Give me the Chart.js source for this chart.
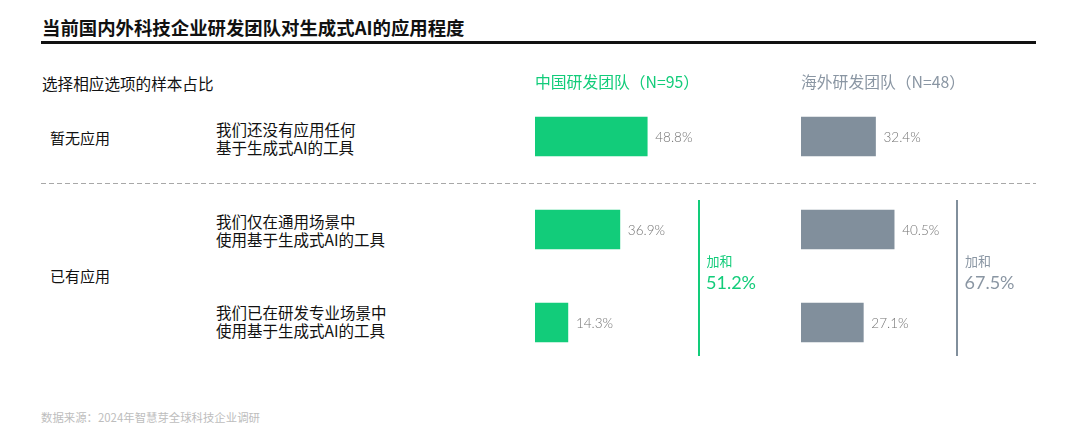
<!DOCTYPE html>
<html>
<head>
<meta charset="utf-8">
<script src="https://cdn.jsdelivr.net/npm/chart.js@4.4.1/dist/chart.umd.min.js"></script>
<style>
  html, body { margin:0; padding:0; background:#fff; }
  body { width:1080px; height:443px; position:relative; overflow:hidden;
         font-family:"Noto Sans CJK SC","Noto Sans",sans-serif; color:#111; }
  .abs { position:absolute; white-space:nowrap; }
  #title { left:42px; top:17px; font-size:18.4px; line-height:20px; font-weight:700; color:#111; }
  #rule { left:41px; top:41px; width:995px; height:3px; background:#111; }
  #sub { left:42px; top:73px; font-size:15.6px; line-height:20px; }
  .hdr { top:71.5px; font-size:15.8px; line-height:20px; }
  .grp { left:50px; font-size:15px; line-height:20px; }
  .cat { left:216px; font-size:15.5px; line-height:17.7px; }
  #dash { left:41px; top:183px; width:995px; height:1px;
          background:repeating-linear-gradient(90deg,#a8a8a8 0 5px,transparent 5px 8px); }
  .vline { top:200px; width:2px; height:156px; }
  .sumT { font-size:13px; line-height:16px; top:253px; }
  .sumV { font-size:18px; line-height:22px; top:270.5px; font-family:Lato,"Noto Sans",sans-serif; }
  #src { left:41px; top:409px; font-size:11.4px; line-height:16px; color:#bdbdbd; }
  .cwrap { position:absolute; top:90px; width:230px; height:279px; }
</style>
</head>
<body>
<div id="title" class="abs">当前国内外科技企业研发团队对生成式AI的应用程度</div>
<div id="rule" class="abs"></div>
<div id="sub" class="abs">选择相应选项的样本占比</div>
<div id="dash" class="abs"></div>
<div id="src" class="abs">数据来源：2024年智慧芽全球科技企业调研</div>

<div class="cwrap" style="left:535px;"><canvas id="c1"></canvas></div>
<div class="cwrap" style="left:801px;"><canvas id="c2"></canvas></div>

<script>
// ---- data ----
const categories = ['我们还没有应用任何基于生成式AI的工具', '我们仅在通用场景中使用基于生成式AI的工具', '我们已在研发专业场景中使用基于生成式AI的工具'];
const categoryLines = [
  ['我们还没有应用任何', '基于生成式AI的工具'],
  ['我们仅在通用场景中', '使用基于生成式AI的工具'],
  ['我们已在研发专业场景中', '使用基于生成式AI的工具']
];
const groupLabels = ['暂无应用', '已有应用'];
const seriesNames = ['中国研发团队（N=95）', '海外研发团队（N=48）'];
const chinaValues = [48.8, 36.9, 14.3];
const overseasValues = [32.4, 40.5, 27.1];
const sumLabel = '加和';
const sumValues = ['51.2%', '67.5%'];

// ---- styles ----
const GREEN = '#12cc7a';
const GRAY = '#818f9c';
const GRAY_TEXT = '#8a96a3';

function addDiv(cls, text, css) {
  const d = document.createElement('div');
  d.className = 'abs ' + cls;
  d.innerHTML = text;
  Object.assign(d.style, css);
  document.body.appendChild(d);
  return d;
}

// headers
addDiv('hdr', seriesNames[0], { left: '535px', color: GREEN });
addDiv('hdr', seriesNames[1], { left: '801px', color: GRAY_TEXT });
// group labels
addDiv('grp', groupLabels[0], { top: '128px' });
addDiv('grp', groupLabels[1], { top: '266px' });
// category labels
const catTops = [121, 213.3, 304.3];
categoryLines.forEach((lines, i) => addDiv('cat', lines.join('<br>'), { top: catTops[i] + 'px' }));
// sum brackets
addDiv('vline', '', { left: '697.5px', background: GREEN });
addDiv('vline', '', { left: '956px', background: GRAY });
addDiv('sumT', sumLabel, { left: '706.5px', color: GREEN });
addDiv('sumV', sumValues[0], { left: '706px', color: GREEN });
addDiv('sumT', sumLabel, { left: '965px', color: GRAY_TEXT });
addDiv('sumV', sumValues[1], { left: '964.5px', color: GRAY_TEXT });

const valueLabels = {
  id: 'valueLabels',
  afterDatasetsDraw(chart) {
    const ctx = chart.ctx;
    ctx.save();
    ctx.font = '300 13.5px Lato, "Noto Sans", sans-serif';
    ctx.fillStyle = '#747474';
    ctx.textAlign = 'left';
    ctx.textBaseline = 'middle';
    chart.getDatasetMeta(0).data.forEach((bar, i) => {
      const v = chart.data.datasets[0].data[i];
      ctx.fillText(v.toFixed(1) + '%', bar.x + 8, bar.y + 1);
    });
    ctx.restore();
  }
};

function makeChart(id, values, color) {
  new Chart(document.getElementById(id), {
    type: 'bar',
    data: {
      labels: categories,
      datasets: [{ data: values, backgroundColor: color, borderWidth: 0, barThickness: 39 }]
    },
    options: {
      indexAxis: 'y',
      responsive: true,
      maintainAspectRatio: false,
      animation: false,
      layout: { padding: 0 },
      plugins: { legend: { display: false }, tooltip: { enabled: false } },
      scales: {
        x: { display: false, min: 0, max: 100 },
        y: { display: false }
      }
    },
    plugins: [valueLabels]
  });
}
makeChart('c1', chinaValues, GREEN);
makeChart('c2', overseasValues, GRAY);
</script>
</body>
</html>
